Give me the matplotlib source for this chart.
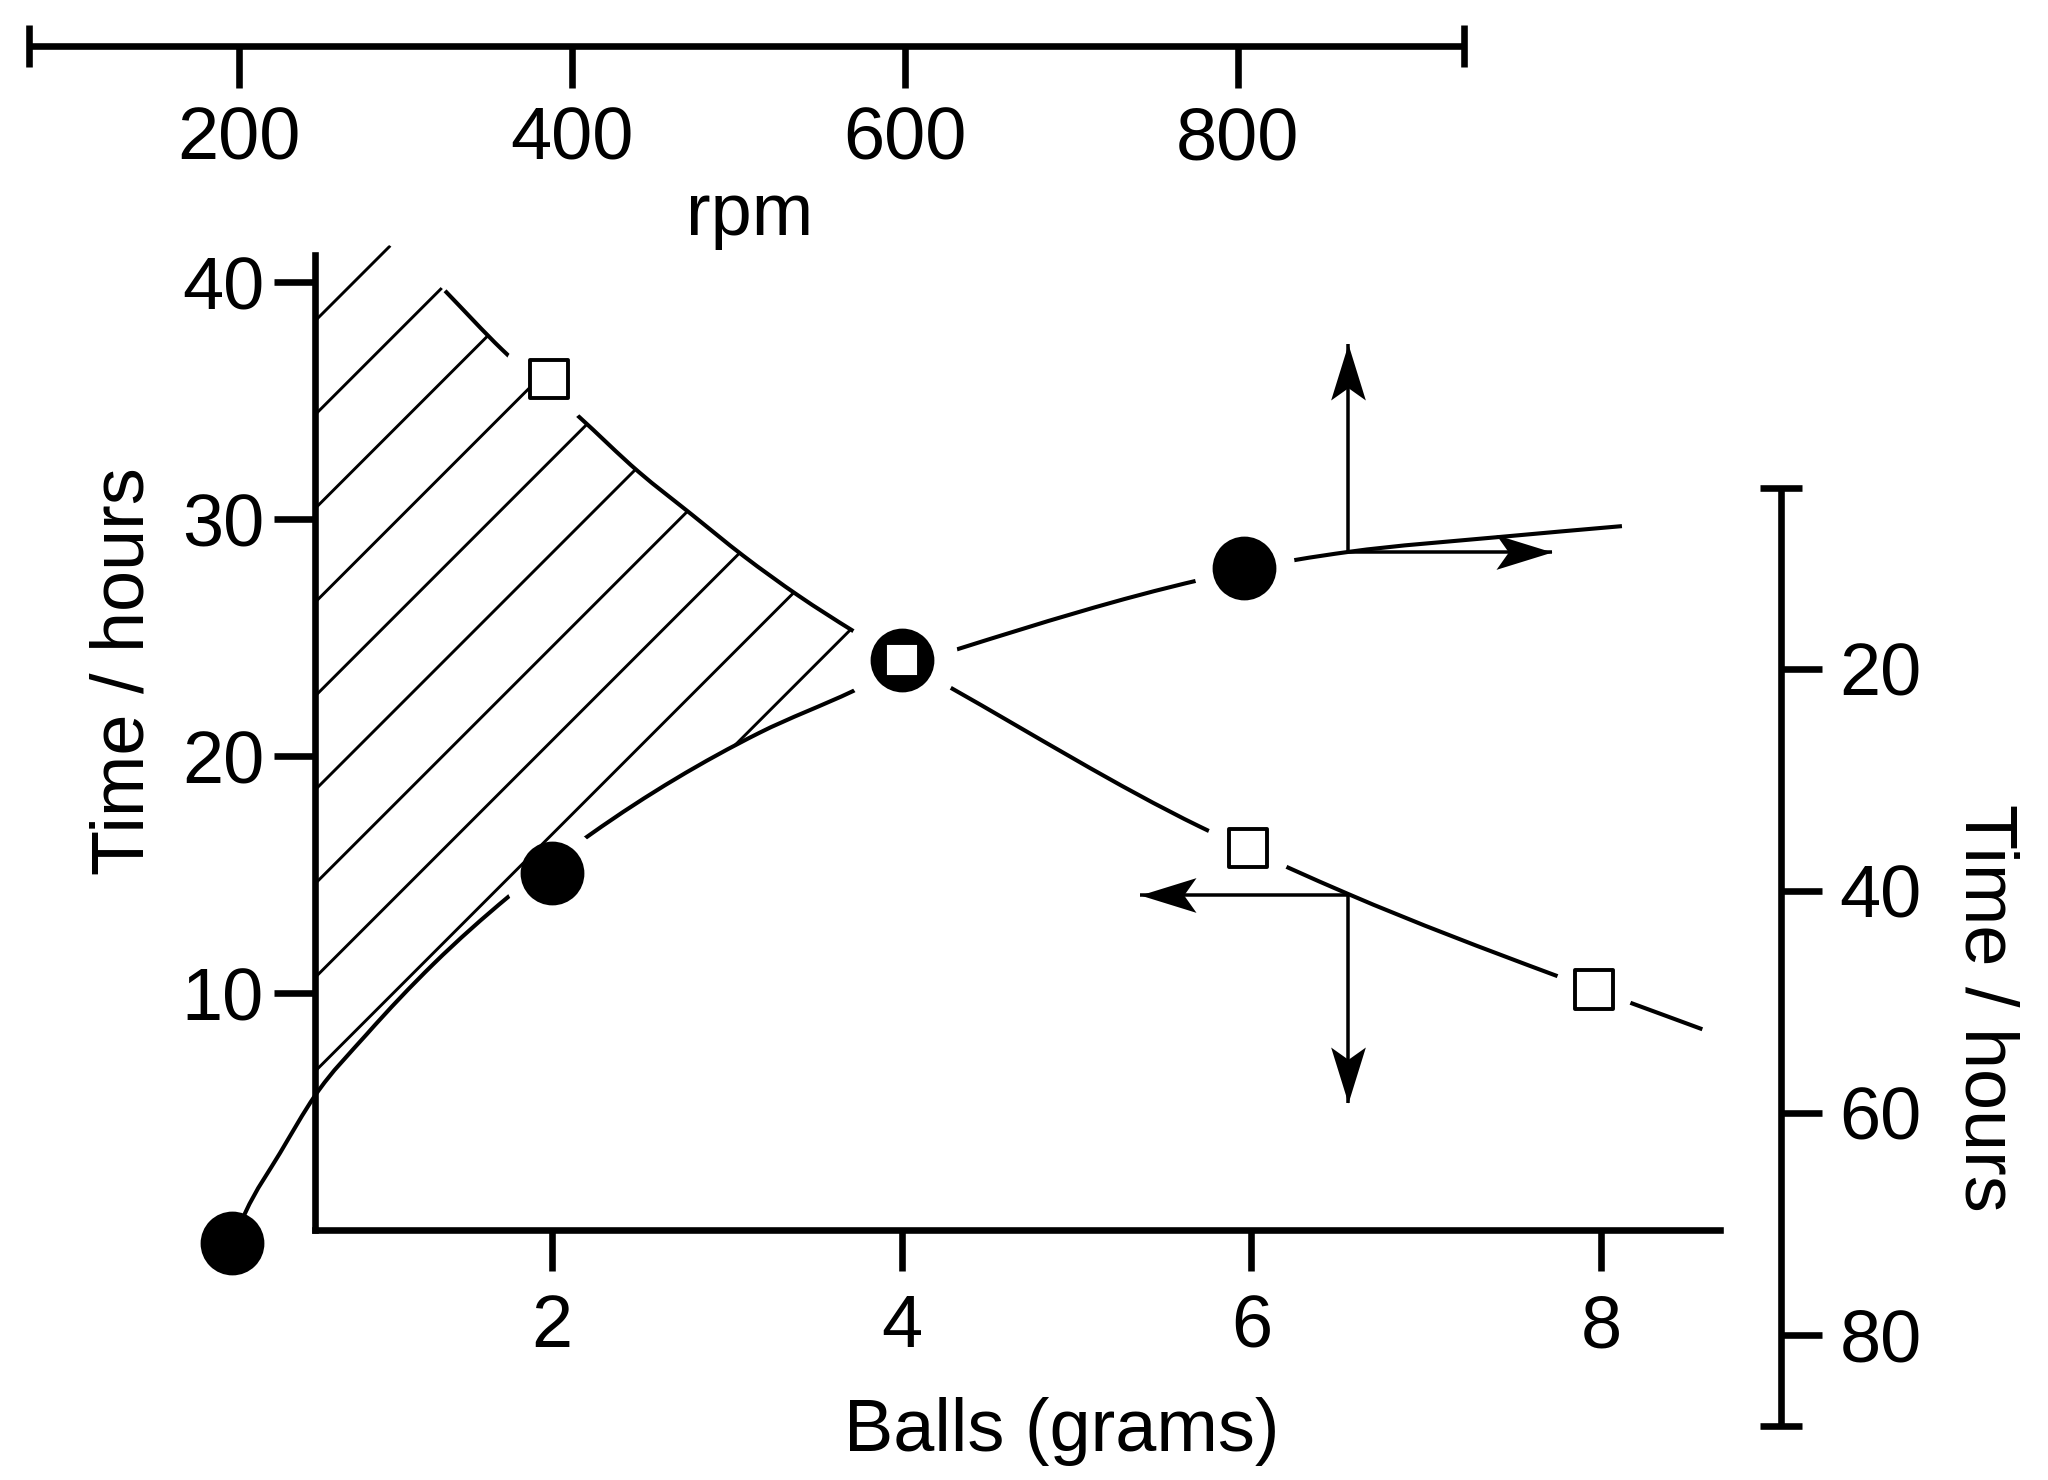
import numpy as np
import matplotlib
matplotlib.use('Agg')
import matplotlib.pyplot as plt
from matplotlib.path import Path
from matplotlib.patches import PathPatch
from matplotlib.collections import LineCollection
from matplotlib.transforms import IdentityTransform

# ---- values ----
# filled circles and open squares (Balls in grams, Time in hours)
circle_x = [0.17, 2.0, 4.0, 5.96]
circle_y = [-0.55, 15.05, 24.05, 27.93]
square_x = [1.98, 4.0, 5.98, 7.96]
square_y = [35.9, 24.05, 16.1, 10.15]

# points
rise_x = [0.17, 0.243, 0.443, 0.643, 0.939, 1.32, 1.749, 2.226, 3.183, 3.721,
          4.0, 4.32, 5.706, 6.258, 6.553, 7.417, 8.12]
rise_y = [-0.55, 0.71, 3.25, 5.67, 8.26, 11.22, 14.06, 16.73, 20.97, 22.74,
          23.75, 24.51, 27.43, 28.28, 28.61, 29.24, 29.7]
fall_x = [1.387, 1.713, 2.148, 2.493, 2.80, 3.093, 3.412, 3.721, 4.0, 4.275,
          5.705, 6.223, 6.553, 7.726, 8.149, 8.58]
fall_y = [39.63, 37.15, 34.35, 32.0, 30.18, 28.45, 26.75, 25.28, 24.05, 22.9,
          17.02, 15.25, 14.18, 10.78, 9.64, 8.47]

# shaded area: top corner, and where the two curves meet
hatch_top_x = 1.07
hatch_top_y = 41.55
meet_x, meet_y = 4.0, 24.05

# arrows: start point on a curve and the two tips
arrow_start = [(6.55, 28.6), (6.55, 14.15)]
arrow_tips = [[(6.55, 37.4), (7.72, 28.6)], [(5.36, 14.15), (6.55, 5.35)]]

# axes
x_ticks = [2, 4, 6, 8]
x_lim = (0.643, 8.681)
y_ticks = [10, 20, 30, 40]
y_lim = (0, 41.14)
rpm_ticks = [200, 400, 600, 800]
rpm_lim = (73.9, 935.8)
right_ticks = [20, 40, 60, 80]
right_lim = (88.2, 3.7)

# ---- figure ----
W, H, DPI = 2048, 1480, 280
plt.rcParams['font.family'] = ['Liberation Sans', 'DejaVu Sans']
plt.rcParams['font.size'] = 19

fig = plt.figure(figsize=(W / DPI, H / DPI), dpi=DPI)


def box(x0, y0, x1, y1):
    # pixel box (top-left origin) -> figure fraction
    return [x0 / W, 1 - y1 / H, (x1 - x0) / W, (y1 - y0) / H]


def smooth_segments(xs, ys):
    # smooth cubic pieces through the traced points (slopes from neighbours)
    x = np.asarray(xs, float)
    y = np.asarray(ys, float)
    h = np.diff(x)
    d = np.diff(y) / h
    m = np.empty_like(x)
    m[1:-1] = (d[:-1] * h[1:] + d[1:] * h[:-1]) / (h[:-1] + h[1:])
    m[0], m[-1] = d[0], d[-1]
    segs = []
    for i in range(len(x) - 1):
        p1 = np.array([x[i], y[i]])
        p2 = np.array([x[i + 1], y[i + 1]])
        c1 = p1 + np.array([h[i] / 3, m[i] * h[i] / 3])
        c2 = p2 - np.array([h[i] / 3, m[i + 1] * h[i] / 3])
        segs.append((p1, c1, c2, p2))
    return segs


def segs_path(segs):
    verts = [segs[0][0]]
    codes = [Path.MOVETO]
    for s in segs:
        verts += [s[1], s[2], s[3]]
        codes += [Path.CURVE4] * 3
    return Path(verts, codes)


SPINE = 1.7
TICK = 10.5

ax = fig.add_axes(box(315, 255, 1720, 1230))
ax.set_xlim(x_lim)
ax.set_ylim(y_lim)
for s in ['top', 'right']:
    ax.spines[s].set_visible(False)
for s in ['left', 'bottom']:
    ax.spines[s].set_linewidth(SPINE)
ax.set_xticks(x_ticks)
ax.set_yticks(y_ticks)
ax.tick_params(axis='both', direction='out', length=TICK, width=SPINE)
ax.tick_params(axis='x', pad=5.7)
ax.tick_params(axis='y', pad=2.6)
ax.patch.set_visible(False)

rise_segs = smooth_segments(rise_x, rise_y)
fall_segs = smooth_segments(fall_x, fall_y)

# curves
for segs in (rise_segs, fall_segs):
    ax.add_patch(PathPatch(segs_path(segs), facecolor='none', edgecolor='k',
                           lw=1.05, zorder=2, clip_on=False))

# shaded region: bounded by the spine, the falling curve and the rising curve
i_fall = fall_x.index(3.721)
i_rise0 = rise_x.index(0.643)
i_rise1 = rise_x.index(3.721)
verts = [(x_lim[0], hatch_top_y), (hatch_top_x, hatch_top_y), (fall_x[0], fall_y[0])]
codes = [Path.MOVETO, Path.LINETO, Path.LINETO]
for s in fall_segs[:i_fall]:
    verts += [s[1], s[2], s[3]]
    codes += [Path.CURVE4] * 3
verts += [(meet_x, meet_y), (rise_x[i_rise1], rise_y[i_rise1])]
codes += [Path.LINETO, Path.LINETO]
for s in reversed(rise_segs[i_rise0:i_rise1]):
    verts += [s[2], s[1], s[0]]
    codes += [Path.CURVE4] * 3
verts += [(x_lim[0], hatch_top_y)]
codes += [Path.CLOSEPOLY]
shade = PathPatch(Path(verts, codes), transform=ax.transData)

# diagonal shading lines, 45 degrees on the page
hatch_phase, hatch_step = 636, 93.8
lines = []
for k in range(14):
    c = hatch_phase + k * hatch_step
    lines.append([(0, H - c), (W, H - c + W)])
hatch = LineCollection(lines, colors='k', linewidths=0.75,
                       transform=IdentityTransform(), zorder=3.5)
hatch.set_clip_path(shade)
ax.add_collection(hatch, autolim=False)

# white gaps round the symbols
circle_gap = [0, 25, 29, 26]
square_gap = [24, 0, 22, 20]
ax.scatter(circle_x, circle_y, s=np.array(circle_gap) ** 2, c='white',
           linewidths=0, zorder=3, clip_on=False)
ax.scatter(square_x, square_y, s=np.array(square_gap) ** 2, c='white',
           linewidths=0, zorder=3, clip_on=False)

# symbols
ax.plot(circle_x, circle_y, 'o', ms=15.4, color='k', zorder=5, clip_on=False)
square_size = [9.8, 8.6, 9.8, 9.8]
ax.scatter(square_x, square_y, s=np.array(square_size) ** 2, marker='s',
           facecolors='white', edgecolors='k', linewidths=1.0, zorder=6, clip_on=False)

# arrows with a narrow notched head
head = np.array([(0, 0), (-1, 0.31), (-0.78, 0), (-1, -0.31), (0, 0)])
for start, tips in zip(arrow_start, arrow_tips):
    for tip in tips:
        ax.plot([start[0], tip[0]], [start[1], tip[1]], color='k', lw=0.9,
                solid_capstyle='butt', zorder=4)
        ang = np.arctan2(tip[1] - start[1], tip[0] - start[0])
        rot = np.array([[np.cos(ang), -np.sin(ang)], [np.sin(ang), np.cos(ang)]])
        mk = Path(head @ rot.T, [Path.MOVETO, Path.LINETO, Path.LINETO,
                                 Path.LINETO, Path.CLOSEPOLY])
        ax.plot([tip[0]], [tip[1]], marker=mk, ms=28.8, color='k', mew=0, zorder=4)

ax.set_xlabel('Balls (grams)', va='center')
ax.xaxis.set_label_coords((1062 - 315) / 1405, (1230 - 1431) / 975)
ax.set_ylabel('Time / hours', va='center', ha='center')
ax.yaxis.set_label_coords((124.5 - 315) / 1405, (1230 - 671) / 975)

# top rpm scale
ax_t = fig.add_axes(box(29, 0, 1464, 46))
ax_t.set_xlim(rpm_lim)
ax_t.set_ylim(0, 1)
for s in ['top', 'left', 'right']:
    ax_t.spines[s].set_visible(False)
ax_t.spines['bottom'].set_linewidth(SPINE)
ax_t.spines['bottom'].set_capstyle('butt')
ax_t.set_yticks([])
ax_t.set_xticks(rpm_ticks)
ax_t.tick_params(axis='x', direction='out', length=10.8, width=SPINE, pad=4.6)
ax_t.patch.set_visible(False)
ax_t.plot([0, 1], [0, 0], transform=ax_t.transAxes, ls='none', marker='|',
          ms=10.8, mew=SPINE, color='k', clip_on=False)
ax_t.set_xlabel('rpm', va='center')
ax_t.xaxis.set_label_coords((750 - 29) / 1435, (46 - 215) / 46)

# right time scale
ax_r = fig.add_axes(box(1700, 488, 1781, 1426))
ax_r.set_ylim(right_lim)
for s in ['top', 'left', 'bottom']:
    ax_r.spines[s].set_visible(False)
ax_r.spines['right'].set_linewidth(SPINE)
ax_r.spines['right'].set_capstyle('butt')
ax_r.set_xticks([])
ax_r.yaxis.tick_right()
ax_r.set_yticks(right_ticks)
ax_r.tick_params(axis='y', direction='out', length=TICK, width=SPINE, pad=4.6)
ax_r.patch.set_visible(False)
ax_r.plot([1, 1], [0, 1], transform=ax_r.transAxes, ls='none', marker='_',
          ms=10.8, mew=SPINE, color='k', clip_on=False)
ax_r.yaxis.set_label_position('right')
ax_r.set_ylabel('Time / hours', rotation=270, va='center', ha='center')
ax_r.yaxis.set_label_coords((1985 - 1700) / 81, (1426 - 1008) / 938)

fig.savefig('out.png', dpi=DPI, facecolor='white')
